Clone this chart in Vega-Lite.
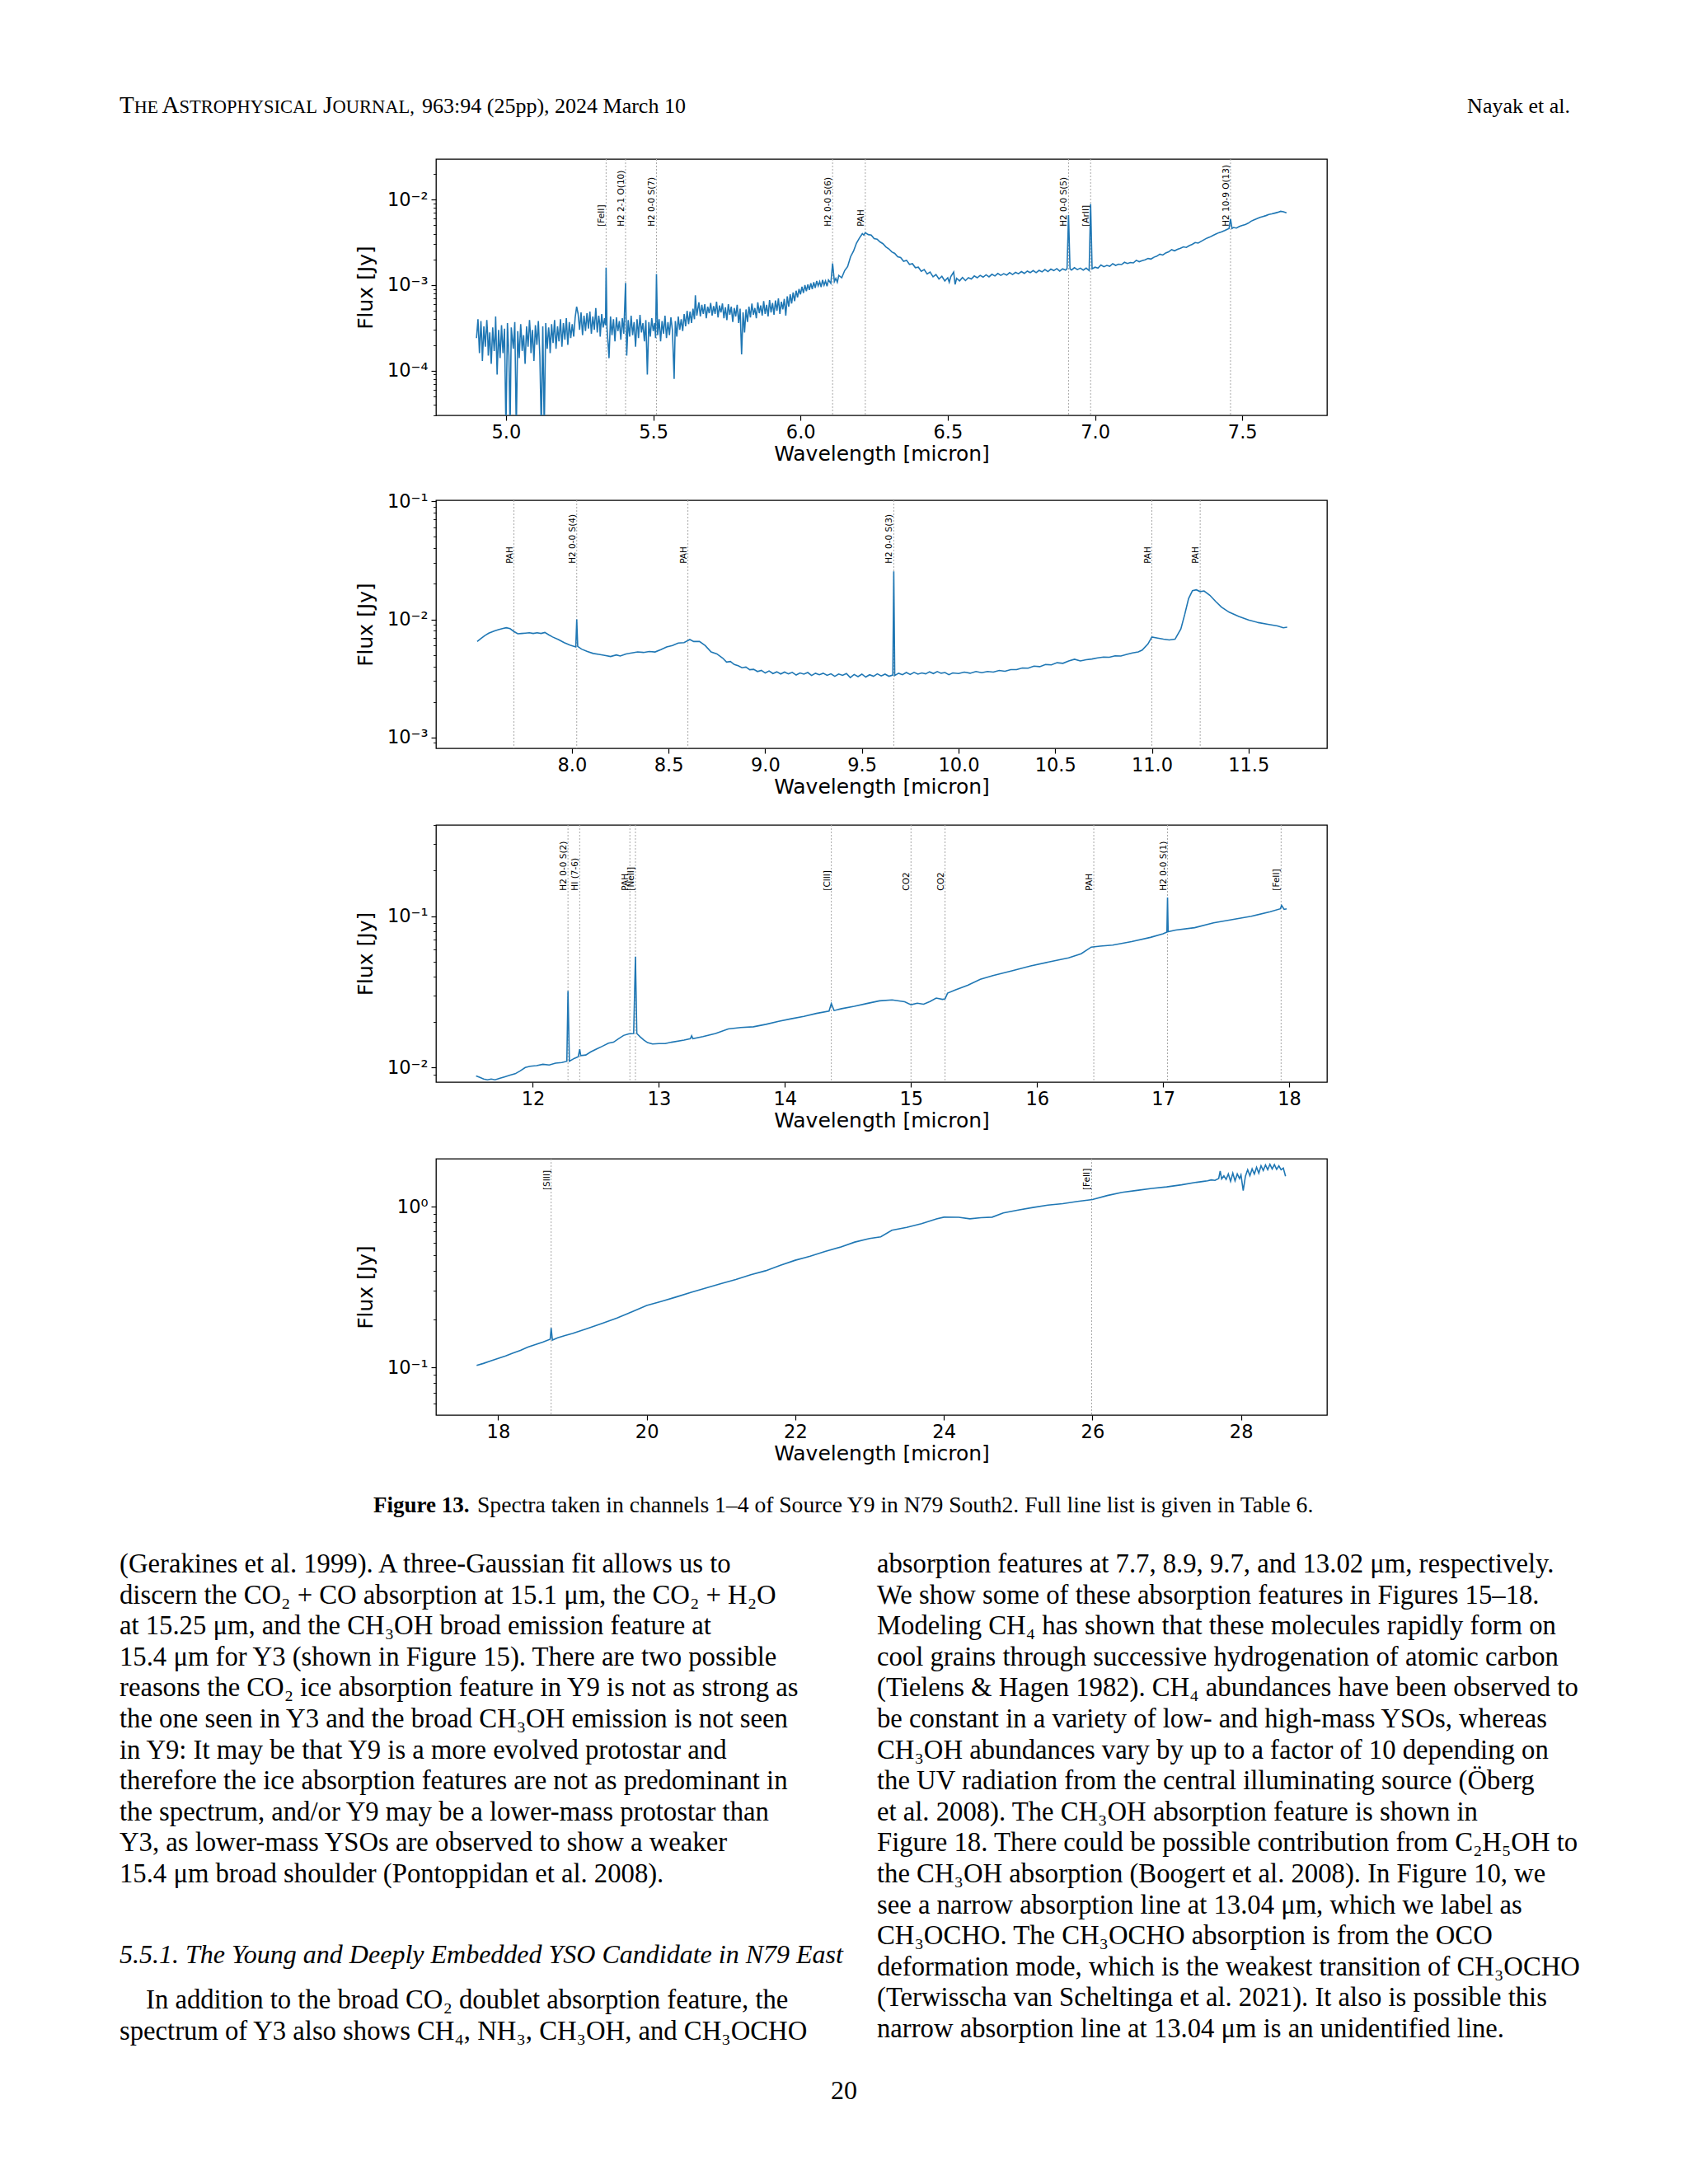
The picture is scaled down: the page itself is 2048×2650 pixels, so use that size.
{
"$schema": "https://vega.github.io/schema/vega-lite/v6.json",
"background": "white",
"padding": {"left": 145, "top": 0, "right": 0, "bottom": 0},
"spacing": 0,
"bounds": "flush",
"config": {
  "view": {"stroke": null},
  "axis": {"grid": false, "domain": false, "ticks": true, "tickColor": "black", "labelColor": "black", "labelFont": "DejaVu Sans", "labelFontSize": 22.5, "titleFont": "DejaVu Sans", "titleFontSize": 25, "titleFontWeight": "normal", "titleColor": "black", "labelOverlap": false, "labelFlush": false, "labelBound": false},
  "axisX": {"tickSize": 6, "tickWidth": 1.2, "labelPadding": 3, "titlePadding": 3},
  "axisY": {"labelPadding": 4, "titlePadding": 13}
},
"datasets": {
"s1": [
{"w":4.900,"f":2.4e-4},{"w":4.905,"f":4.0e-4},{"w":4.910,"f":1.6e-4},{"w":4.915,"f":3.8e-4},{"w":4.918,"f":2.2e-4},{"w":4.920,"f":1.3e-4},{"w":4.925,"f":3.3e-4},{"w":4.930,"f":1.9e-4},{"w":4.935,"f":3.9e-4},{"w":4.938,"f":2.6e-4},{"w":4.940,"f":1.5e-4},{"w":4.945,"f":2.8e-4},{"w":4.950,"f":1.2e-4},{"w":4.955,"f":3.2e-4},{"w":4.960,"f":1.7e-4},{"w":4.963,"f":2.5e-4},{"w":4.965,"f":4.3e-4},{"w":4.970,"f":9.0e-5},{"w":4.975,"f":3.0e-4},{"w":4.980,"f":1.4e-4},{"w":4.985,"f":3.4e-4},{"w":4.988,"f":2.1e-4},{"w":4.990,"f":1.6e-4},{"w":4.995,"f":3.1e-4},
{"w":5.000,"f":2.0e-5},{"w":5.005,"f":3.6e-4},{"w":5.010,"f":1.5e-4},{"w":5.014,"f":2.0e-5},{"w":5.018,"f":3.2e-4},{"w":5.022,"f":2.3e-4},{"w":5.025,"f":1.8e-4},{"w":5.030,"f":3.7e-4},{"w":5.035,"f":2.0e-5},{"w":5.040,"f":2.9e-4},{"w":5.045,"f":1.4e-4},{"w":5.050,"f":3.5e-4},{"w":5.053,"f":2.4e-4},{"w":5.055,"f":1.7e-4},{"w":5.060,"f":2.6e-4},{"w":5.065,"f":1.2e-4},{"w":5.070,"f":3.3e-4},{"w":5.075,"f":1.9e-4},{"w":5.080,"f":3.9e-4},{"w":5.083,"f":2.7e-4},{"w":5.085,"f":1.6e-4},{"w":5.090,"f":3.0e-4},{"w":5.095,"f":1.3e-4},
{"w":5.100,"f":3.4e-4},{"w":5.105,"f":2.0e-4},{"w":5.110,"f":3.8e-4},{"w":5.115,"f":1.5e-4},{"w":5.120,"f":2.0e-5},{"w":5.125,"f":3.3e-4},{"w":5.130,"f":2.0e-5},{"w":5.135,"f":3.6e-4},{"w":5.140,"f":1.8e-4},{"w":5.145,"f":3.2e-4},{"w":5.148,"f":2.4e-4},{"w":5.150,"f":1.6e-4},{"w":5.155,"f":3.5e-4},{"w":5.160,"f":2.1e-4},{"w":5.165,"f":3.9e-4},{"w":5.170,"f":1.8e-4},{"w":5.175,"f":3.3e-4},{"w":5.178,"f":2.6e-4},{"w":5.180,"f":2.2e-4},{"w":5.185,"f":4.0e-4},{"w":5.190,"f":1.9e-4},{"w":5.195,"f":3.6e-4},
{"w":5.200,"f":2.3e-4},{"w":5.205,"f":4.1e-4},{"w":5.210,"f":2.0e-4},{"w":5.215,"f":3.7e-4},{"w":5.218,"f":2.9e-4},{"w":5.220,"f":2.4e-4},{"w":5.225,"f":3.5e-4},{"w":5.230,"f":2.5e-4},{"w":5.235,"f":4.2e-4},{"w":5.240,"f":5.6e-4},{"w":5.245,"f":4.6e-4},{"w":5.250,"f":3.0e-4},{"w":5.255,"f":4.8e-4},{"w":5.260,"f":2.6e-4},{"w":5.265,"f":4.4e-4},{"w":5.268,"f":3.5e-4},{"w":5.270,"f":2.9e-4},{"w":5.275,"f":4.7e-4},{"w":5.280,"f":3.1e-4},{"w":5.285,"f":4.9e-4},{"w":5.290,"f":2.7e-4},{"w":5.295,"f":4.3e-4},
{"w":5.300,"f":3.0e-4},{"w":5.305,"f":5.4e-4},{"w":5.310,"f":2.8e-4},{"w":5.315,"f":4.4e-4},{"w":5.318,"f":3.6e-4},{"w":5.320,"f":2.5e-4},{"w":5.325,"f":4.6e-4},{"w":5.330,"f":3.2e-4},{"w":5.335,"f":4.1e-4},{"w":5.338,"f":3.4e-4},{"w":5.340,"f":1.6e-3},{"w":5.343,"f":3.2e-4},{"w":5.350,"f":1.4e-4},{"w":5.355,"f":4.3e-4},{"w":5.360,"f":2.6e-4},{"w":5.365,"f":4.0e-4},{"w":5.370,"f":2.2e-4},{"w":5.375,"f":4.2e-4},{"w":5.378,"f":3.3e-4},{"w":5.380,"f":2.9e-4},{"w":5.385,"f":3.8e-4},{"w":5.390,"f":2.3e-4},{"w":5.395,"f":4.1e-4},{"w":5.400,"f":2.7e-4},{"w":5.406,"f":1.06e-3},{"w":5.410,"f":1.5e-4},{"w":5.415,"f":3.9e-4},{"w":5.420,"f":2.5e-4},{"w":5.425,"f":4.4e-4},{"w":5.430,"f":2.6e-4},{"w":5.435,"f":3.7e-4},{"w":5.440,"f":1.9e-4},{"w":5.445,"f":4.0e-4},{"w":5.448,"f":3.1e-4},{"w":5.450,"f":2.4e-4},{"w":5.455,"f":4.5e-4},{"w":5.460,"f":2.8e-4},{"w":5.465,"f":3.6e-4},{"w":5.470,"f":2.2e-4},{"w":5.475,"f":3.9e-4},{"w":5.480,"f":9.0e-5},{"w":5.485,"f":3.7e-4},{"w":5.490,"f":2.5e-4},{"w":5.495,"f":4.1e-4},{"w":5.500,"f":2.9e-4},{"w":5.505,"f":3.6e-4},{"w":5.508,"f":2.4e-4},{"w":5.511,"f":1.35e-3},{"w":5.515,"f":2.6e-4},{"w":5.520,"f":4.0e-4},{"w":5.525,"f":2.2e-4},{"w":5.530,"f":3.8e-4},{"w":5.535,"f":2.7e-4},{"w":5.540,"f":4.4e-4},{"w":5.545,"f":2.4e-4},{"w":5.550,"f":3.7e-4},{"w":5.555,"f":2.6e-4},{"w":5.560,"f":4.2e-4},{"w":5.565,"f":3.0e-4},{"w":5.571,"f":8.0e-5},{"w":5.575,"f":3.8e-4},{"w":5.580,"f":2.5e-4},{"w":5.585,"f":4.3e-4},{"w":5.590,"f":3.0e-4},{"w":5.595,"f":4.0e-4},
{"w":5.600,"f":2.9e-4},{"w":5.605,"f":4.6e-4},{"w":5.610,"f":3.3e-4},{"w":5.615,"f":5.0e-4},{"w":5.620,"f":3.5e-4},{"w":5.625,"f":4.9e-4},{"w":5.630,"f":3.6e-4},{"w":5.635,"f":5.3e-4},{"w":5.640,"f":4.0e-4},{"w":5.643,"f":7.6e-4},{"w":5.648,"f":4.4e-4},{"w":5.655,"f":6.3e-4},{"w":5.660,"f":4.3e-4},{"w":5.665,"f":5.9e-4},{"w":5.668,"f":5.0e-4},{"w":5.670,"f":4.6e-4},{"w":5.675,"f":6.0e-4},{"w":5.680,"f":4.1e-4},{"w":5.685,"f":5.6e-4},{"w":5.690,"f":4.7e-4},{"w":5.695,"f":6.2e-4},
{"w":5.700,"f":4.4e-4},{"w":5.705,"f":5.7e-4},{"w":5.710,"f":4.6e-4},{"w":5.715,"f":6.4e-4},{"w":5.720,"f":4.2e-4},{"w":5.725,"f":5.8e-4},{"w":5.728,"f":5.1e-4},{"w":5.730,"f":4.8e-4},{"w":5.735,"f":6.1e-4},{"w":5.740,"f":4.1e-4},{"w":5.745,"f":5.5e-4},{"w":5.750,"f":3.9e-4},{"w":5.755,"f":6.0e-4},{"w":5.760,"f":4.5e-4},{"w":5.765,"f":5.6e-4},{"w":5.770,"f":3.7e-4},{"w":5.775,"f":5.4e-4},{"w":5.780,"f":4.3e-4},{"w":5.785,"f":5.9e-4},{"w":5.790,"f":3.6e-4},{"w":5.795,"f":5.3e-4},
{"w":5.800,"f":1.55e-4},{"w":5.805,"f":4.8e-4},{"w":5.810,"f":2.8e-4},{"w":5.815,"f":5.2e-4},{"w":5.820,"f":3.7e-4},{"w":5.825,"f":5.6e-4},{"w":5.830,"f":4.2e-4},{"w":5.835,"f":6.1e-4},{"w":5.840,"f":4.5e-4},{"w":5.845,"f":5.4e-4},{"w":5.850,"f":4.1e-4},{"w":5.855,"f":6.3e-4},{"w":5.858,"f":5.3e-4},{"w":5.860,"f":4.7e-4},{"w":5.865,"f":5.8e-4},{"w":5.870,"f":4.4e-4},{"w":5.875,"f":6.5e-4},{"w":5.880,"f":4.6e-4},{"w":5.885,"f":5.9e-4},{"w":5.890,"f":4.3e-4},{"w":5.895,"f":6.7e-4},
{"w":5.900,"f":4.8e-4},{"w":5.905,"f":6.2e-4},{"w":5.910,"f":4.5e-4},{"w":5.915,"f":6.6e-4},{"w":5.920,"f":5.0e-4},{"w":5.925,"f":7.0e-4},{"w":5.930,"f":4.6e-4},{"w":5.935,"f":6.4e-4},{"w":5.940,"f":5.2e-4},{"w":5.945,"f":6.9e-4},{"w":5.950,"f":4.4e-4},{"w":5.955,"f":7.4e-4},{"w":5.960,"f":5.6e-4},{"w":5.965,"f":7.8e-4},{"w":5.970,"f":6.1e-4},{"w":5.975,"f":8.2e-4},{"w":5.980,"f":6.5e-4},{"w":5.985,"f":8.6e-4},{"w":5.990,"f":7.2e-4},{"w":5.995,"f":9.0e-4},
{"w":6.000,"f":7.8e-4},{"w":6.005,"f":9.6e-4},{"w":6.010,"f":8.1e-4},{"w":6.015,"f":1.0e-3},{"w":6.020,"f":8.5e-4},{"w":6.025,"f":1.02e-3},{"w":6.030,"f":8.8e-4},{"w":6.035,"f":1.05e-3},{"w":6.040,"f":9.0e-4},{"w":6.045,"f":1.08e-3},{"w":6.050,"f":9.3e-4},{"w":6.055,"f":1.12e-3},{"w":6.060,"f":9.8e-4},{"w":6.065,"f":1.1e-3},{"w":6.070,"f":9.5e-4},{"w":6.075,"f":1.15e-3},{"w":6.080,"f":1.0e-3},{"w":6.085,"f":1.12e-3},{"w":6.090,"f":9.7e-4},{"w":6.095,"f":1.15e-3},{"w":6.103,"f":1.05e-3},{"w":6.109,"f":1.8e-3},{"w":6.115,"f":1.1e-3},{"w":6.120,"f":1.2e-3},{"w":6.125,"f":1.08e-3},
{"w":6.13,"f":1.3e-3},{"w":6.14,"f":1.22e-3},{"w":6.15,"f":1.48e-3},{"w":6.16,"f":1.65e-3},{"w":6.17,"f":2.15e-3},{"w":6.18,"f":2.5e-3},{"w":6.19,"f":3.1e-3},{"w":6.20,"f":3.55e-3},{"w":6.21,"f":4.0e-3},{"w":6.215,"f":3.85e-3},{"w":6.22,"f":4.1e-3},{"w":6.23,"f":3.9e-3},{"w":6.24,"f":3.85e-3},{"w":6.25,"f":3.5e-3},{"w":6.26,"f":3.45e-3},{"w":6.27,"f":3.2e-3},{"w":6.28,"f":3.05e-3},{"w":6.29,"f":2.8e-3},{"w":6.30,"f":2.65e-3},{"w":6.31,"f":2.45e-3},{"w":6.32,"f":2.35e-3},{"w":6.33,"f":2.15e-3},{"w":6.34,"f":2.1e-3},{"w":6.35,"f":1.9e-3},{"w":6.36,"f":1.95e-3},{"w":6.37,"f":1.75e-3},{"w":6.38,"f":1.78e-3},{"w":6.39,"f":1.6e-3},{"w":6.40,"f":1.62e-3},{"w":6.41,"f":1.45e-3},{"w":6.42,"f":1.52e-3},{"w":6.43,"f":1.35e-3},{"w":6.44,"f":1.42e-3},{"w":6.45,"f":1.25e-3},{"w":6.46,"f":1.33e-3},{"w":6.47,"f":1.18e-3},{"w":6.48,"f":1.27e-3},{"w":6.49,"f":1.12e-3},{"w":6.50,"f":1.22e-3},{"w":6.505,"f":1.08e-3},{"w":6.51,"f":1.25e-3},{"w":6.52,"f":1.42e-3},{"w":6.525,"f":1.02e-3},{"w":6.53,"f":1.2e-3},{"w":6.54,"f":1.12e-3},{"w":6.55,"f":1.23e-3},{"w":6.56,"f":1.13e-3},{"w":6.57,"f":1.22e-3},{"w":6.58,"f":1.18e-3},{"w":6.59,"f":1.28e-3},{"w":6.60,"f":1.22e-3},{"w":6.61,"f":1.3e-3},{"w":6.62,"f":1.24e-3},{"w":6.63,"f":1.32e-3},{"w":6.64,"f":1.25e-3},{"w":6.65,"f":1.34e-3},{"w":6.66,"f":1.28e-3},{"w":6.67,"f":1.37e-3},{"w":6.68,"f":1.3e-3},{"w":6.69,"f":1.36e-3},{"w":6.70,"f":1.31e-3},{"w":6.71,"f":1.4e-3},{"w":6.72,"f":1.33e-3},{"w":6.73,"f":1.41e-3},{"w":6.74,"f":1.36e-3},{"w":6.75,"f":1.44e-3},{"w":6.76,"f":1.37e-3},{"w":6.77,"f":1.46e-3},{"w":6.78,"f":1.4e-3},{"w":6.79,"f":1.48e-3},{"w":6.80,"f":1.4e-3},{"w":6.81,"f":1.49e-3},{"w":6.82,"f":1.43e-3},{"w":6.83,"f":1.52e-3},{"w":6.84,"f":1.44e-3},{"w":6.85,"f":1.54e-3},{"w":6.86,"f":1.48e-3},{"w":6.87,"f":1.56e-3},{"w":6.88,"f":1.46e-3},{"w":6.89,"f":1.55e-3},{"w":6.90,"f":1.5e-3},{"w":6.905,"f":1.56e-3},{"w":6.910,"f":6.6e-3},{"w":6.915,"f":1.55e-3},{"w":6.92,"f":1.5e-3},{"w":6.93,"f":1.6e-3},{"w":6.94,"f":1.52e-3},{"w":6.95,"f":1.58e-3},{"w":6.96,"f":1.5e-3},{"w":6.97,"f":1.58e-3},{"w":6.98,"f":1.48e-3},{"w":6.985,"f":8.9e-3},{"w":6.99,"f":1.55e-3},{"w":7.00,"f":1.62e-3},{"w":7.01,"f":1.58e-3},{"w":7.02,"f":1.72e-3},{"w":7.03,"f":1.64e-3},{"w":7.04,"f":1.7e-3},{"w":7.05,"f":1.66e-3},{"w":7.06,"f":1.78e-3},{"w":7.07,"f":1.7e-3},{"w":7.08,"f":1.76e-3},{"w":7.09,"f":1.74e-3},{"w":7.10,"f":1.85e-3},{"w":7.11,"f":1.79e-3},{"w":7.12,"f":1.84e-3},{"w":7.13,"f":1.82e-3},{"w":7.14,"f":1.95e-3},{"w":7.15,"f":1.88e-3},{"w":7.16,"f":1.93e-3},{"w":7.17,"f":1.98e-3},{"w":7.18,"f":2.05e-3},{"w":7.19,"f":2.02e-3},{"w":7.20,"f":2.12e-3},{"w":7.21,"f":2.18e-3},{"w":7.22,"f":2.3e-3},{"w":7.23,"f":2.25e-3},{"w":7.24,"f":2.38e-3},{"w":7.25,"f":2.45e-3},{"w":7.26,"f":2.6e-3},{"w":7.27,"f":2.52e-3},{"w":7.28,"f":2.62e-3},{"w":7.29,"f":2.7e-3},{"w":7.30,"f":2.8e-3},{"w":7.31,"f":2.76e-3},{"w":7.32,"f":2.9e-3},{"w":7.33,"f":3.0e-3},{"w":7.34,"f":3.15e-3},{"w":7.35,"f":3.1e-3},{"w":7.36,"f":3.25e-3},{"w":7.37,"f":3.4e-3},{"w":7.38,"f":3.55e-3},{"w":7.39,"f":3.65e-3},{"w":7.40,"f":3.8e-3},{"w":7.41,"f":3.95e-3},{"w":7.42,"f":4.1e-3},{"w":7.43,"f":4.2e-3},{"w":7.44,"f":4.35e-3},{"w":7.455,"f":4.6e-3},{"w":7.46,"f":5.9e-3},{"w":7.465,"f":4.6e-3},{"w":7.47,"f":4.72e-3},{"w":7.48,"f":4.65e-3},{"w":7.49,"f":4.85e-3},{"w":7.50,"f":5.0e-3},{"w":7.51,"f":5.1e-3},{"w":7.52,"f":5.3e-3},{"w":7.53,"f":5.6e-3},{"w":7.54,"f":5.8e-3},{"w":7.55,"f":6.0e-3},{"w":7.56,"f":6.2e-3},{"w":7.57,"f":6.35e-3},{"w":7.58,"f":6.5e-3},{"w":7.59,"f":6.7e-3},{"w":7.60,"f":6.8e-3},{"w":7.61,"f":6.95e-3},{"w":7.62,"f":7.1e-3},{"w":7.63,"f":7.3e-3},{"w":7.64,"f":7.2e-3},{"w":7.65,"f":7.0e-3}
],
"s2": [
{"w":7.51,"f":6.5e-3},{"w":7.53,"f":6.9e-3},{"w":7.55,"f":7.3e-3},{"w":7.57,"f":7.65e-3},{"w":7.60,"f":8.0e-3},{"w":7.62,"f":8.2e-3},{"w":7.64,"f":8.35e-3},{"w":7.66,"f":8.5e-3},{"w":7.68,"f":8.35e-3},{"w":7.70,"f":7.9e-3},{"w":7.72,"f":7.55e-3},{"w":7.74,"f":7.6e-3},{"w":7.76,"f":7.65e-3},{"w":7.78,"f":7.7e-3},{"w":7.80,"f":7.6e-3},{"w":7.82,"f":7.7e-3},{"w":7.84,"f":7.6e-3},{"w":7.86,"f":7.75e-3},{"w":7.88,"f":7.4e-3},{"w":7.90,"f":7.1e-3},{"w":7.93,"f":6.75e-3},{"w":7.96,"f":6.35e-3},{"w":7.99,"f":6.05e-3},{"w":8.02,"f":5.85e-3},{"w":8.025,"f":1.0e-2},{"w":8.03,"f":5.9e-3},{"w":8.05,"f":5.6e-3},{"w":8.08,"f":5.35e-3},{"w":8.11,"f":5.15e-3},{"w":8.14,"f":5.05e-3},{"w":8.17,"f":4.95e-3},{"w":8.20,"f":4.85e-3},{"w":8.23,"f":5.0e-3},{"w":8.25,"f":4.9e-3},{"w":8.28,"f":5.1e-3},{"w":8.31,"f":5.2e-3},{"w":8.34,"f":5.3e-3},{"w":8.37,"f":5.25e-3},{"w":8.40,"f":5.35e-3},{"w":8.43,"f":5.3e-3},{"w":8.46,"f":5.55e-3},{"w":8.49,"f":5.85e-3},{"w":8.52,"f":6.0e-3},{"w":8.55,"f":6.3e-3},{"w":8.58,"f":6.35e-3},{"w":8.61,"f":6.75e-3},{"w":8.63,"f":6.5e-3},{"w":8.66,"f":6.5e-3},{"w":8.69,"f":6.0e-3},{"w":8.72,"f":5.3e-3},{"w":8.75,"f":5.1e-3},{"w":8.78,"f":4.7e-3},{"w":8.80,"f":4.35e-3},{"w":8.82,"f":4.4e-3},{"w":8.84,"f":4.15e-3},{"w":8.86,"f":4.05e-3},{"w":8.88,"f":3.9e-3},{"w":8.90,"f":3.95e-3},{"w":8.92,"f":3.75e-3},{"w":8.94,"f":3.78e-3},{"w":8.96,"f":3.62e-3},{"w":8.98,"f":3.7e-3},{"w":9.00,"f":3.52e-3},{"w":9.02,"f":3.66e-3},{"w":9.04,"f":3.48e-3},{"w":9.06,"f":3.6e-3},{"w":9.08,"f":3.45e-3},{"w":9.10,"f":3.58e-3},{"w":9.12,"f":3.46e-3},{"w":9.14,"f":3.56e-3},{"w":9.16,"f":3.38e-3},{"w":9.18,"f":3.52e-3},{"w":9.20,"f":3.44e-3},{"w":9.22,"f":3.55e-3},{"w":9.24,"f":3.35e-3},{"w":9.26,"f":3.5e-3},{"w":9.28,"f":3.4e-3},{"w":9.30,"f":3.5e-3},{"w":9.32,"f":3.36e-3},{"w":9.34,"f":3.46e-3},{"w":9.36,"f":3.3e-3},{"w":9.38,"f":3.45e-3},{"w":9.40,"f":3.36e-3},{"w":9.42,"f":3.48e-3},{"w":9.44,"f":3.22e-3},{"w":9.46,"f":3.42e-3},{"w":9.48,"f":3.28e-3},{"w":9.50,"f":3.44e-3},{"w":9.52,"f":3.25e-3},{"w":9.54,"f":3.4e-3},{"w":9.56,"f":3.3e-3},{"w":9.58,"f":3.46e-3},{"w":9.60,"f":3.32e-3},{"w":9.62,"f":3.44e-3},{"w":9.64,"f":3.3e-3},{"w":9.66,"f":3.38e-3},{"w":9.665,"f":2.55e-2},{"w":9.67,"f":3.35e-3},{"w":9.69,"f":3.5e-3},{"w":9.71,"f":3.4e-3},{"w":9.73,"f":3.55e-3},{"w":9.75,"f":3.42e-3},{"w":9.77,"f":3.56e-3},{"w":9.79,"f":3.44e-3},{"w":9.81,"f":3.52e-3},{"w":9.83,"f":3.46e-3},{"w":9.85,"f":3.6e-3},{"w":9.87,"f":3.48e-3},{"w":9.89,"f":3.62e-3},{"w":9.91,"f":3.5e-3},{"w":9.93,"f":3.55e-3},{"w":9.95,"f":3.4e-3},{"w":9.97,"f":3.52e-3},{"w":10.00,"f":3.48e-3},{"w":10.03,"f":3.58e-3},{"w":10.06,"f":3.5e-3},{"w":10.09,"f":3.62e-3},{"w":10.12,"f":3.54e-3},{"w":10.15,"f":3.62e-3},{"w":10.18,"f":3.58e-3},{"w":10.21,"f":3.7e-3},{"w":10.24,"f":3.64e-3},{"w":10.27,"f":3.76e-3},{"w":10.30,"f":3.76e-3},{"w":10.33,"f":3.88e-3},{"w":10.36,"f":3.86e-3},{"w":10.39,"f":4.02e-3},{"w":10.42,"f":3.98e-3},{"w":10.45,"f":4.15e-3},{"w":10.48,"f":4.12e-3},{"w":10.51,"f":4.3e-3},{"w":10.54,"f":4.25e-3},{"w":10.57,"f":4.45e-3},{"w":10.60,"f":4.6e-3},{"w":10.63,"f":4.45e-3},{"w":10.66,"f":4.55e-3},{"w":10.69,"f":4.62e-3},{"w":10.72,"f":4.72e-3},{"w":10.75,"f":4.8e-3},{"w":10.78,"f":4.78e-3},{"w":10.81,"f":4.92e-3},{"w":10.84,"f":4.9e-3},{"w":10.87,"f":5.05e-3},{"w":10.90,"f":5.2e-3},{"w":10.93,"f":5.3e-3},{"w":10.95,"f":5.5e-3},{"w":10.98,"f":6.2e-3},{"w":11.00,"f":7.1e-3},{"w":11.03,"f":6.95e-3},{"w":11.06,"f":6.8e-3},{"w":11.09,"f":6.7e-3},{"w":11.12,"f":6.8e-3},{"w":11.15,"f":8.3e-3},{"w":11.17,"f":1.1e-2},{"w":11.19,"f":1.5e-2},{"w":11.21,"f":1.75e-2},{"w":11.23,"f":1.78e-2},{"w":11.25,"f":1.72e-2},{"w":11.27,"f":1.74e-2},{"w":11.30,"f":1.6e-2},{"w":11.33,"f":1.42e-2},{"w":11.36,"f":1.27e-2},{"w":11.40,"f":1.15e-2},{"w":11.45,"f":1.06e-2},{"w":11.50,"f":9.9e-3},{"w":11.55,"f":9.4e-3},{"w":11.60,"f":9.1e-3},{"w":11.65,"f":8.8e-3},{"w":11.68,"f":8.5e-3},{"w":11.70,"f":8.6e-3}
],
"s3": [
{"w":11.55,"f":8.8e-3},{"w":11.58,"f":8.6e-3},{"w":11.61,"f":8.4e-3},{"w":11.64,"f":8.3e-3},{"w":11.67,"f":8.4e-3},{"w":11.70,"f":8.3e-3},{"w":11.74,"f":8.5e-3},{"w":11.78,"f":8.7e-3},{"w":11.82,"f":8.9e-3},{"w":11.86,"f":9.1e-3},{"w":11.90,"f":9.5e-3},{"w":11.94,"f":1.0e-2},{"w":11.98,"f":1.02e-2},{"w":12.03,"f":1.03e-2},{"w":12.08,"f":1.05e-2},{"w":12.13,"f":1.04e-2},{"w":12.18,"f":1.07e-2},{"w":12.23,"f":1.08e-2},{"w":12.27,"f":1.1e-2},{"w":12.279,"f":3.2e-2},{"w":12.29,"f":1.1e-2},{"w":12.33,"f":1.15e-2},{"w":12.36,"f":1.18e-2},{"w":12.372,"f":1.32e-2},{"w":12.38,"f":1.2e-2},{"w":12.42,"f":1.21e-2},{"w":12.46,"f":1.27e-2},{"w":12.50,"f":1.32e-2},{"w":12.55,"f":1.38e-2},{"w":12.60,"f":1.45e-2},{"w":12.64,"f":1.47e-2},{"w":12.68,"f":1.55e-2},{"w":12.72,"f":1.63e-2},{"w":12.76,"f":1.67e-2},{"w":12.80,"f":1.68e-2},{"w":12.814,"f":5.4e-2},{"w":12.825,"f":1.68e-2},{"w":12.85,"f":1.6e-2},{"w":12.88,"f":1.52e-2},{"w":12.91,"f":1.46e-2},{"w":12.95,"f":1.43e-2},{"w":13.00,"f":1.44e-2},{"w":13.05,"f":1.44e-2},{"w":13.10,"f":1.47e-2},{"w":13.20,"f":1.52e-2},{"w":13.25,"f":1.55e-2},{"w":13.26,"f":1.62e-2},{"w":13.27,"f":1.55e-2},{"w":13.35,"f":1.6e-2},{"w":13.45,"f":1.68e-2},{"w":13.55,"f":1.8e-2},{"w":13.65,"f":1.84e-2},{"w":13.75,"f":1.86e-2},{"w":13.85,"f":1.93e-2},{"w":13.95,"f":2.02e-2},{"w":14.05,"f":2.1e-2},{"w":14.15,"f":2.18e-2},{"w":14.25,"f":2.28e-2},{"w":14.35,"f":2.36e-2},{"w":14.368,"f":2.65e-2},{"w":14.39,"f":2.38e-2},{"w":14.45,"f":2.45e-2},{"w":14.55,"f":2.54e-2},{"w":14.65,"f":2.65e-2},{"w":14.75,"f":2.76e-2},{"w":14.85,"f":2.8e-2},{"w":14.95,"f":2.72e-2},{"w":15.00,"f":2.6e-2},{"w":15.05,"f":2.66e-2},{"w":15.10,"f":2.62e-2},{"w":15.15,"f":2.73e-2},{"w":15.20,"f":2.88e-2},{"w":15.25,"f":2.82e-2},{"w":15.27,"f":2.84e-2},{"w":15.29,"f":3.1e-2},{"w":15.35,"f":3.25e-2},{"w":15.45,"f":3.5e-2},{"w":15.55,"f":3.83e-2},{"w":15.65,"f":4.05e-2},{"w":15.80,"f":4.35e-2},{"w":15.95,"f":4.7e-2},{"w":16.10,"f":5.0e-2},{"w":16.25,"f":5.3e-2},{"w":16.35,"f":5.65e-2},{"w":16.43,"f":6.25e-2},{"w":16.50,"f":6.35e-2},{"w":16.60,"f":6.45e-2},{"w":16.75,"f":6.8e-2},{"w":16.90,"f":7.25e-2},{"w":17.00,"f":7.65e-2},{"w":17.03,"f":7.85e-2},{"w":17.035,"f":1.33e-1},{"w":17.04,"f":7.9e-2},{"w":17.10,"f":8.1e-2},{"w":17.25,"f":8.4e-2},{"w":17.40,"f":9.05e-2},{"w":17.55,"f":9.5e-2},{"w":17.70,"f":1.0e-1},{"w":17.85,"f":1.07e-1},{"w":17.93,"f":1.12e-1},{"w":17.94,"f":1.18e-1},{"w":17.96,"f":1.11e-1},{"w":17.98,"f":1.12e-1}
],
"s4": [
{"w":17.71,"f":0.103},{"w":17.8,"f":0.106},{"w":17.9,"f":0.110},{"w":18.0,"f":0.114},{"w":18.1,"f":0.118},{"w":18.2,"f":0.123},{"w":18.3,"f":0.128},{"w":18.4,"f":0.134},{"w":18.5,"f":0.139},{"w":18.6,"f":0.144},{"w":18.7,"f":0.150},{"w":18.713,"f":0.176},{"w":18.73,"f":0.148},{"w":18.8,"f":0.153},{"w":18.9,"f":0.158},{"w":19.0,"f":0.163},{"w":19.2,"f":0.175},{"w":19.4,"f":0.188},{"w":19.6,"f":0.203},{"w":19.8,"f":0.222},{"w":20.0,"f":0.243},{"w":20.2,"f":0.258},{"w":20.4,"f":0.275},{"w":20.6,"f":0.294},{"w":20.8,"f":0.313},{"w":21.0,"f":0.333},{"w":21.2,"f":0.353},{"w":21.4,"f":0.378},{"w":21.6,"f":0.400},{"w":21.8,"f":0.432},{"w":22.0,"f":0.465},{"w":22.2,"f":0.492},{"w":22.4,"f":0.527},{"w":22.6,"f":0.560},{"w":22.8,"f":0.603},{"w":23.0,"f":0.635},{"w":23.15,"f":0.650},{"w":23.3,"f":0.715},{"w":23.5,"f":0.745},{"w":23.7,"f":0.785},{"w":23.9,"f":0.840},{"w":24.0,"f":0.862},{"w":24.2,"f":0.860},{"w":24.35,"f":0.842},{"w":24.5,"f":0.855},{"w":24.65,"f":0.862},{"w":24.8,"f":0.915},{"w":25.0,"f":0.955},{"w":25.2,"f":0.990},{"w":25.4,"f":1.025},{"w":25.6,"f":1.045},{"w":25.8,"f":1.080},{"w":26.0,"f":1.110},{"w":26.2,"f":1.175},{"w":26.4,"f":1.230},{"w":26.6,"f":1.265},{"w":26.8,"f":1.300},{"w":27.0,"f":1.330},{"w":27.2,"f":1.370},{"w":27.4,"f":1.420},{"w":27.5,"f":1.44},{"w":27.55,"f":1.450},{"w":27.6,"f":1.47},{"w":27.65,"f":1.46},{"w":27.7,"f":1.500},{"w":27.72,"f":1.67},{"w":27.74,"f":1.49},{"w":27.77,"f":1.56},{"w":27.8,"f":1.48},{"w":27.83,"f":1.6},{"w":27.86,"f":1.44},{"w":27.89,"f":1.62},{"w":27.92,"f":1.45},{"w":27.95,"f":1.6},{"w":27.98,"f":1.5},{"w":28.0,"f":1.58},{"w":28.03,"f":1.26},{"w":28.06,"f":1.55},{"w":28.09,"f":1.7},{"w":28.12,"f":1.56},{"w":28.15,"f":1.72},{"w":28.18,"f":1.6},{"w":28.21,"f":1.76},{"w":28.24,"f":1.62},{"w":28.27,"f":1.8},{"w":28.3,"f":1.68},{"w":28.33,"f":1.82},{"w":28.36,"f":1.7},{"w":28.39,"f":1.84},{"w":28.42,"f":1.72},{"w":28.45,"f":1.83},{"w":28.48,"f":1.71},{"w":28.51,"f":1.8},{"w":28.54,"f":1.7},{"w":28.57,"f":1.74},{"w":28.6,"f":1.55}
],
"l1": [{"w":5.340,"label":"[FeII]"},{"w":5.406,"label":"H2 2-1 O(10)"},{"w":5.511,"label":"H2 0-0 S(7)"},{"w":6.109,"label":"H2 0-0 S(6)"},{"w":6.22,"label":"PAH"},{"w":6.910,"label":"H2 0-0 S(5)"},{"w":6.985,"label":"[ArII]"},{"w":7.46,"label":"H2 10-9 O(13)"}],
"l2": [{"w":7.7,"label":"PAH"},{"w":8.025,"label":"H2 0-0 S(4)"},{"w":8.6,"label":"PAH"},{"w":9.665,"label":"H2 0-0 S(3)"},{"w":11.0,"label":"PAH"},{"w":11.25,"label":"PAH"}],
"l3": [{"w":12.279,"label":"H2 0-0 S(2)"},{"w":12.372,"label":"HI (7-6)"},{"w":12.77,"label":"PAH"},{"w":12.814,"label":"[NeII]"},{"w":14.368,"label":"[ClII]"},{"w":15.0,"label":"CO2"},{"w":15.27,"label":"CO2"},{"w":16.45,"label":"PAH"},{"w":17.035,"label":"H2 0-0 S(1)"},{"w":17.936,"label":"[FeII]"}],
"l4": [{"w":18.713,"label":"[SIII]"},{"w":25.99,"label":"[FeII]"}]
},
"vconcat": [
{
 "width": 1081, "height": 193,
 "data": {"values": [{}]},
 "layer": [
  {"mark": {"type": "text", "text": "T", "font": "Liberation Serif", "fontSize": 29, "align": "left", "baseline": "alphabetic", "color": "black"}, "encoding": {"x": {"value": -384}, "y": {"value": 137}}},
  {"mark": {"type": "text", "text": "HE", "font": "Liberation Serif", "fontSize": 22, "align": "left", "baseline": "alphabetic", "color": "black"}, "encoding": {"x": {"value": -366.3}, "y": {"value": 137}}},
  {"mark": {"type": "text", "text": "A", "font": "Liberation Serif", "fontSize": 29, "align": "left", "baseline": "alphabetic", "color": "black"}, "encoding": {"x": {"value": -332.5}, "y": {"value": 137}}},
  {"mark": {"type": "text", "text": "STROPHYSICAL", "font": "Liberation Serif", "fontSize": 22.5, "align": "left", "baseline": "alphabetic", "color": "black"}, "encoding": {"x": {"value": -311.6}, "y": {"value": 137}}},
  {"mark": {"type": "text", "text": "J", "font": "Liberation Serif", "fontSize": 29, "align": "left", "baseline": "alphabetic", "color": "black"}, "encoding": {"x": {"value": -137}, "y": {"value": 137}}},
  {"mark": {"type": "text", "text": "OURNAL,", "font": "Liberation Serif", "fontSize": 22.5, "align": "left", "baseline": "alphabetic", "color": "black"}, "encoding": {"x": {"value": -125.5}, "y": {"value": 137}}},
  {"mark": {"type": "text", "text": "963:94 (25pp), 2024 March 10", "font": "Liberation Serif", "fontSize": 26, "align": "left", "baseline": "alphabetic", "color": "black"}, "encoding": {"x": {"value": -17}, "y": {"value": 137}}},
  {"mark": {"type": "text", "text": "Nayak et al.", "font": "Liberation Serif", "fontSize": 26, "align": "right", "baseline": "alphabetic", "color": "black"}, "encoding": {"x": {"value": 1376}, "y": {"value": 137}}}
 ]
},
{
 "width": 1081, "height": 311,
 "view": {"stroke": "black", "strokeWidth": 1.3},
 "layer": [
  {"data": {"name": "l1"}, "mark": {"type": "rule", "stroke": "#a8a8a8", "strokeWidth": 1, "strokeDash": [2, 2]},
   "encoding": {"x": {"field": "w", "type": "quantitative", "scale": {"domain": [4.7625, 7.7875], "nice": false, "zero": false}}}},
  {"data": {"name": "l1"}, "mark": {"type": "text", "angle": 270, "align": "left", "baseline": "bottom", "fontSize": 10.5, "font": "DejaVu Sans", "color": "black"},
   "encoding": {"x": {"field": "w", "type": "quantitative", "scale": {"domain": [4.7625, 7.7875], "nice": false, "zero": false}}, "y": {"datum": 0.00485, "type": "quantitative", "scale": {"type": "log", "domain": [3.0e-5, 0.0298], "nice": false}}, "text": {"field": "label"}}},
  {"data": {"name": "s1"}, "mark": {"type": "line", "stroke": "#1f77b4", "strokeWidth": 1.6, "clip": true},
   "encoding": {
    "x": {"field": "w", "type": "quantitative", "scale": {"domain": [4.7625, 7.7875], "nice": false, "zero": false}, "axis": {"title": "Wavelength [micron]", "values": [5, 5.5, 6, 6.5, 7, 7.5], "format": ".1f"}},
    "y": {"field": "f", "type": "quantitative", "scale": {"type": "log", "domain": [3.0e-5, 0.0298], "nice": false},
     "axis": {"title": "Flux [Jy]", "values": [3e-5,4e-5,5e-5,6e-5,7e-5,8e-5,9e-5,1e-4,2e-4,3e-4,4e-4,5e-4,6e-4,7e-4,8e-4,9e-4,1e-3,2e-3,3e-3,4e-3,5e-3,6e-3,7e-3,8e-3,9e-3,1e-2,2e-2],
      "labelExpr": "abs(log(datum.value)/LN10 - round(log(datum.value)/LN10)) < 0.001 ? '10' + (round(log(datum.value)/LN10) < 0 ? '⁻' : '') + ['⁰','¹','²','³','⁴','⁵','⁶'][abs(round(log(datum.value)/LN10))] : ''",
      "tickSize": {"condition": {"test": "abs(log(datum.value)/LN10 - round(log(datum.value)/LN10)) < 0.001", "value": 6}, "value": 3.5},
      "tickWidth": {"condition": {"test": "abs(log(datum.value)/LN10 - round(log(datum.value)/LN10)) < 0.001", "value": 1.2}, "value": 0.9}}}
   }}
 ]
},
{"width": 1081, "height": 103, "data": {"values": [{}]}, "mark": {"type": "text", "text": ""}, "encoding": {}},
{
 "width": 1081, "height": 301,
 "view": {"stroke": "black", "strokeWidth": 1.3},
 "layer": [
  {"data": {"name": "l2"}, "mark": {"type": "rule", "stroke": "#a8a8a8", "strokeWidth": 1, "strokeDash": [2, 2]},
   "encoding": {"x": {"field": "w", "type": "quantitative", "scale": {"domain": [7.297, 11.906], "nice": false, "zero": false}}}},
  {"data": {"name": "l2"}, "mark": {"type": "text", "angle": 270, "align": "left", "baseline": "bottom", "fontSize": 10.5, "font": "DejaVu Sans", "color": "black"},
   "encoding": {"x": {"field": "w", "type": "quantitative", "scale": {"domain": [7.297, 11.906], "nice": false, "zero": false}}, "y": {"datum": 0.0297, "type": "quantitative", "scale": {"type": "log", "domain": [8.1e-4, 0.102], "nice": false}}, "text": {"field": "label"}}},
  {"data": {"name": "s2"}, "mark": {"type": "line", "stroke": "#1f77b4", "strokeWidth": 1.6, "clip": true},
   "encoding": {
    "x": {"field": "w", "type": "quantitative", "scale": {"domain": [7.297, 11.906], "nice": false, "zero": false}, "axis": {"title": "Wavelength [micron]", "values": [8, 8.5, 9, 9.5, 10, 10.5, 11, 11.5], "format": ".1f"}},
    "y": {"field": "f", "type": "quantitative", "scale": {"type": "log", "domain": [8.1e-4, 0.102], "nice": false},
     "axis": {"title": "Flux [Jy]", "values": [9e-4,1e-3,2e-3,3e-3,4e-3,5e-3,6e-3,7e-3,8e-3,9e-3,1e-2,2e-2,3e-2,4e-2,5e-2,6e-2,7e-2,8e-2,9e-2,1e-1],
      "labelExpr": "abs(log(datum.value)/LN10 - round(log(datum.value)/LN10)) < 0.001 ? '10' + (round(log(datum.value)/LN10) < 0 ? '⁻' : '') + ['⁰','¹','²','³','⁴','⁵','⁶'][abs(round(log(datum.value)/LN10))] : ''",
      "tickSize": {"condition": {"test": "abs(log(datum.value)/LN10 - round(log(datum.value)/LN10)) < 0.001", "value": 6}, "value": 3.5},
      "tickWidth": {"condition": {"test": "abs(log(datum.value)/LN10 - round(log(datum.value)/LN10)) < 0.001", "value": 1.2}, "value": 0.9}}}
   }}
 ]
},
{"width": 1081, "height": 93, "data": {"values": [{}]}, "mark": {"type": "text", "text": ""}, "encoding": {}},
{
 "width": 1081, "height": 312,
 "view": {"stroke": "black", "strokeWidth": 1.3},
 "layer": [
  {"data": {"name": "l3"}, "mark": {"type": "rule", "stroke": "#a8a8a8", "strokeWidth": 1, "strokeDash": [2, 2]},
   "encoding": {"x": {"field": "w", "type": "quantitative", "scale": {"domain": [11.232, 18.30], "nice": false, "zero": false}}}},
  {"data": {"name": "l3"}, "mark": {"type": "text", "angle": 270, "align": "left", "baseline": "bottom", "fontSize": 10.5, "font": "DejaVu Sans", "color": "black"},
   "encoding": {"x": {"field": "w", "type": "quantitative", "scale": {"domain": [11.232, 18.30], "nice": false, "zero": false}}, "y": {"datum": 0.1476, "type": "quantitative", "scale": {"type": "log", "domain": [0.00801, 0.401], "nice": false}}, "text": {"field": "label"}}},
  {"data": {"name": "s3"}, "mark": {"type": "line", "stroke": "#1f77b4", "strokeWidth": 1.6, "clip": true},
   "encoding": {
    "x": {"field": "w", "type": "quantitative", "scale": {"domain": [11.232, 18.30], "nice": false, "zero": false}, "axis": {"title": "Wavelength [micron]", "values": [12, 13, 14, 15, 16, 17, 18], "format": "d"}},
    "y": {"field": "f", "type": "quantitative", "scale": {"type": "log", "domain": [0.00801, 0.401], "nice": false},
     "axis": {"title": "Flux [Jy]", "values": [9e-3,1e-2,2e-2,3e-2,4e-2,5e-2,6e-2,7e-2,8e-2,9e-2,0.1,0.2,0.3,0.4],
      "labelExpr": "abs(log(datum.value)/LN10 - round(log(datum.value)/LN10)) < 0.001 ? '10' + (round(log(datum.value)/LN10) < 0 ? '⁻' : '') + ['⁰','¹','²','³','⁴','⁵','⁶'][abs(round(log(datum.value)/LN10))] : ''",
      "tickSize": {"condition": {"test": "abs(log(datum.value)/LN10 - round(log(datum.value)/LN10)) < 0.001", "value": 6}, "value": 3.5},
      "tickWidth": {"condition": {"test": "abs(log(datum.value)/LN10 - round(log(datum.value)/LN10)) < 0.001", "value": 1.2}, "value": 0.9}}}
   }}
 ]
},
{"width": 1081, "height": 93, "data": {"values": [{}]}, "mark": {"type": "text", "text": ""}, "encoding": {}},
{
 "width": 1081, "height": 311,
 "view": {"stroke": "black", "strokeWidth": 1.3},
 "layer": [
  {"data": {"name": "l4"}, "mark": {"type": "rule", "stroke": "#a8a8a8", "strokeWidth": 1, "strokeDash": [2, 2]},
   "encoding": {"x": {"field": "w", "type": "quantitative", "scale": {"domain": [17.163, 29.158], "nice": false, "zero": false}}}},
  {"data": {"name": "l4"}, "mark": {"type": "text", "angle": 270, "align": "left", "baseline": "bottom", "fontSize": 10.5, "font": "DejaVu Sans", "color": "black"},
   "encoding": {"x": {"field": "w", "type": "quantitative", "scale": {"domain": [17.163, 29.158], "nice": false, "zero": false}}, "y": {"datum": 1.27, "type": "quantitative", "scale": {"type": "log", "domain": [0.0506, 1.99], "nice": false}}, "text": {"field": "label"}}},
  {"data": {"name": "s4"}, "mark": {"type": "line", "stroke": "#1f77b4", "strokeWidth": 1.6, "clip": true},
   "encoding": {
    "x": {"field": "w", "type": "quantitative", "scale": {"domain": [17.163, 29.158], "nice": false, "zero": false}, "axis": {"title": "Wavelength [micron]", "values": [18, 20, 22, 24, 26, 28], "format": "d"}},
    "y": {"field": "f", "type": "quantitative", "scale": {"type": "log", "domain": [0.0506, 1.99], "nice": false},
     "axis": {"title": "Flux [Jy]", "values": [0.06,0.07,0.08,0.09,0.1,0.2,0.3,0.4,0.5,0.6,0.7,0.8,0.9,1],
      "labelExpr": "abs(log(datum.value)/LN10 - round(log(datum.value)/LN10)) < 0.001 ? '10' + (round(log(datum.value)/LN10) < 0 ? '⁻' : '') + ['⁰','¹','²','³','⁴','⁵','⁶'][abs(round(log(datum.value)/LN10))] : ''",
      "tickSize": {"condition": {"test": "abs(log(datum.value)/LN10 - round(log(datum.value)/LN10)) < 0.001", "value": 6}, "value": 3.5},
      "tickWidth": {"condition": {"test": "abs(log(datum.value)/LN10 - round(log(datum.value)/LN10)) < 0.001", "value": 1.2}, "value": 0.9}}}
   }}
 ]
},
{
 "width": 1081, "height": 933,
 "data": {"values": [{}]},
 "layer": [
  {"mark": {"type": "text", "text": "Figure 13.", "font": "Liberation Serif", "fontWeight": "bold", "fontSize": 27, "align": "left", "baseline": "alphabetic", "color": "black"}, "encoding": {"x": {"value": -76}, "y": {"value": 118}}},
  {"mark": {"type": "text", "text": "Spectra taken in channels 1–4 of Source Y9 in N79 South2. Full line list is given in Table 6.", "font": "Liberation Serif", "fontSize": 27.6, "align": "left", "baseline": "alphabetic", "color": "black"}, "encoding": {"x": {"value": 50}, "y": {"value": 118}}},
  {"mark": {"type": "text", "text": [
    "(Gerakines et al. 1999). A three-Gaussian fit allows us to",
    "discern the CO₂ + CO absorption at 15.1 μm, the CO₂ + H₂O",
    "at 15.25 μm, and the CH₃OH broad emission feature at",
    "15.4 μm for Y3 (shown in Figure 15). There are two possible",
    "reasons the CO₂ ice absorption feature in Y9 is not as strong as",
    "the one seen in Y3 and the broad CH₃OH emission is not seen",
    "in Y9: It may be that Y9 is a more evolved protostar and",
    "therefore the ice absorption features are not as predominant in",
    "the spectrum, and/or Y9 may be a lower-mass protostar than",
    "Y3, as lower-mass YSOs are observed to show a weaker",
    "15.4 μm broad shoulder (Pontoppidan et al. 2008)."],
    "font": "Liberation Serif", "fontSize": 32.7, "lineHeight": 37.6, "align": "left", "baseline": "top", "color": "black"}, "encoding": {"x": {"value": -384}, "y": {"value": 165}}},
  {"mark": {"type": "text", "text": "5.5.1. The Young and Deeply Embedded YSO Candidate in N79 East", "font": "Liberation Serif", "fontStyle": "italic", "fontSize": 32, "align": "left", "baseline": "alphabetic", "color": "black"}, "encoding": {"x": {"value": -384}, "y": {"value": 665}}},
  {"mark": {"type": "text", "text": "In addition to the broad CO₂ doublet absorption feature, the", "font": "Liberation Serif", "fontSize": 32.7, "align": "left", "baseline": "alphabetic", "color": "black"}, "encoding": {"x": {"value": -352}, "y": {"value": 720}}},
  {"mark": {"type": "text", "text": "spectrum of Y3 also shows CH₄, NH₃, CH₃OH, and CH₃OCHO", "font": "Liberation Serif", "fontSize": 32.7, "align": "left", "baseline": "alphabetic", "color": "black"}, "encoding": {"x": {"value": -384}, "y": {"value": 757.6}}},
  {"mark": {"type": "text", "text": [
    "absorption features at 7.7, 8.9, 9.7, and 13.02 μm, respectively.",
    "We show some of these absorption features in Figures 15–18.",
    "Modeling CH₄ has shown that these molecules rapidly form on",
    "cool grains through successive hydrogenation of atomic carbon",
    "(Tielens & Hagen 1982). CH₄ abundances have been observed to",
    "be constant in a variety of low- and high-mass YSOs, whereas",
    "CH₃OH abundances vary by up to a factor of 10 depending on",
    "the UV radiation from the central illuminating source (Öberg",
    "et al. 2008). The CH₃OH absorption feature is shown in",
    "Figure 18. There could be possible contribution from C₂H₅OH to",
    "the CH₃OH absorption (Boogert et al. 2008). In Figure 10, we",
    "see a narrow absorption line at 13.04 μm, which we label as",
    "CH₃OCHO. The CH₃OCHO absorption is from the OCO",
    "deformation mode, which is the weakest transition of CH₃OCHO",
    "(Terwisscha van Scheltinga et al. 2021). It also is possible this",
    "narrow absorption line at 13.04 μm is an unidentified line."],
    "font": "Liberation Serif", "fontSize": 32.7, "lineHeight": 37.6, "align": "left", "baseline": "top", "color": "black"}, "encoding": {"x": {"value": 535}, "y": {"value": 165}}},
  {"mark": {"type": "text", "text": "20", "font": "Liberation Serif", "fontSize": 32, "align": "center", "baseline": "alphabetic", "color": "black"}, "encoding": {"x": {"value": 495}, "y": {"value": 830}}}
 ]
}
]
}
